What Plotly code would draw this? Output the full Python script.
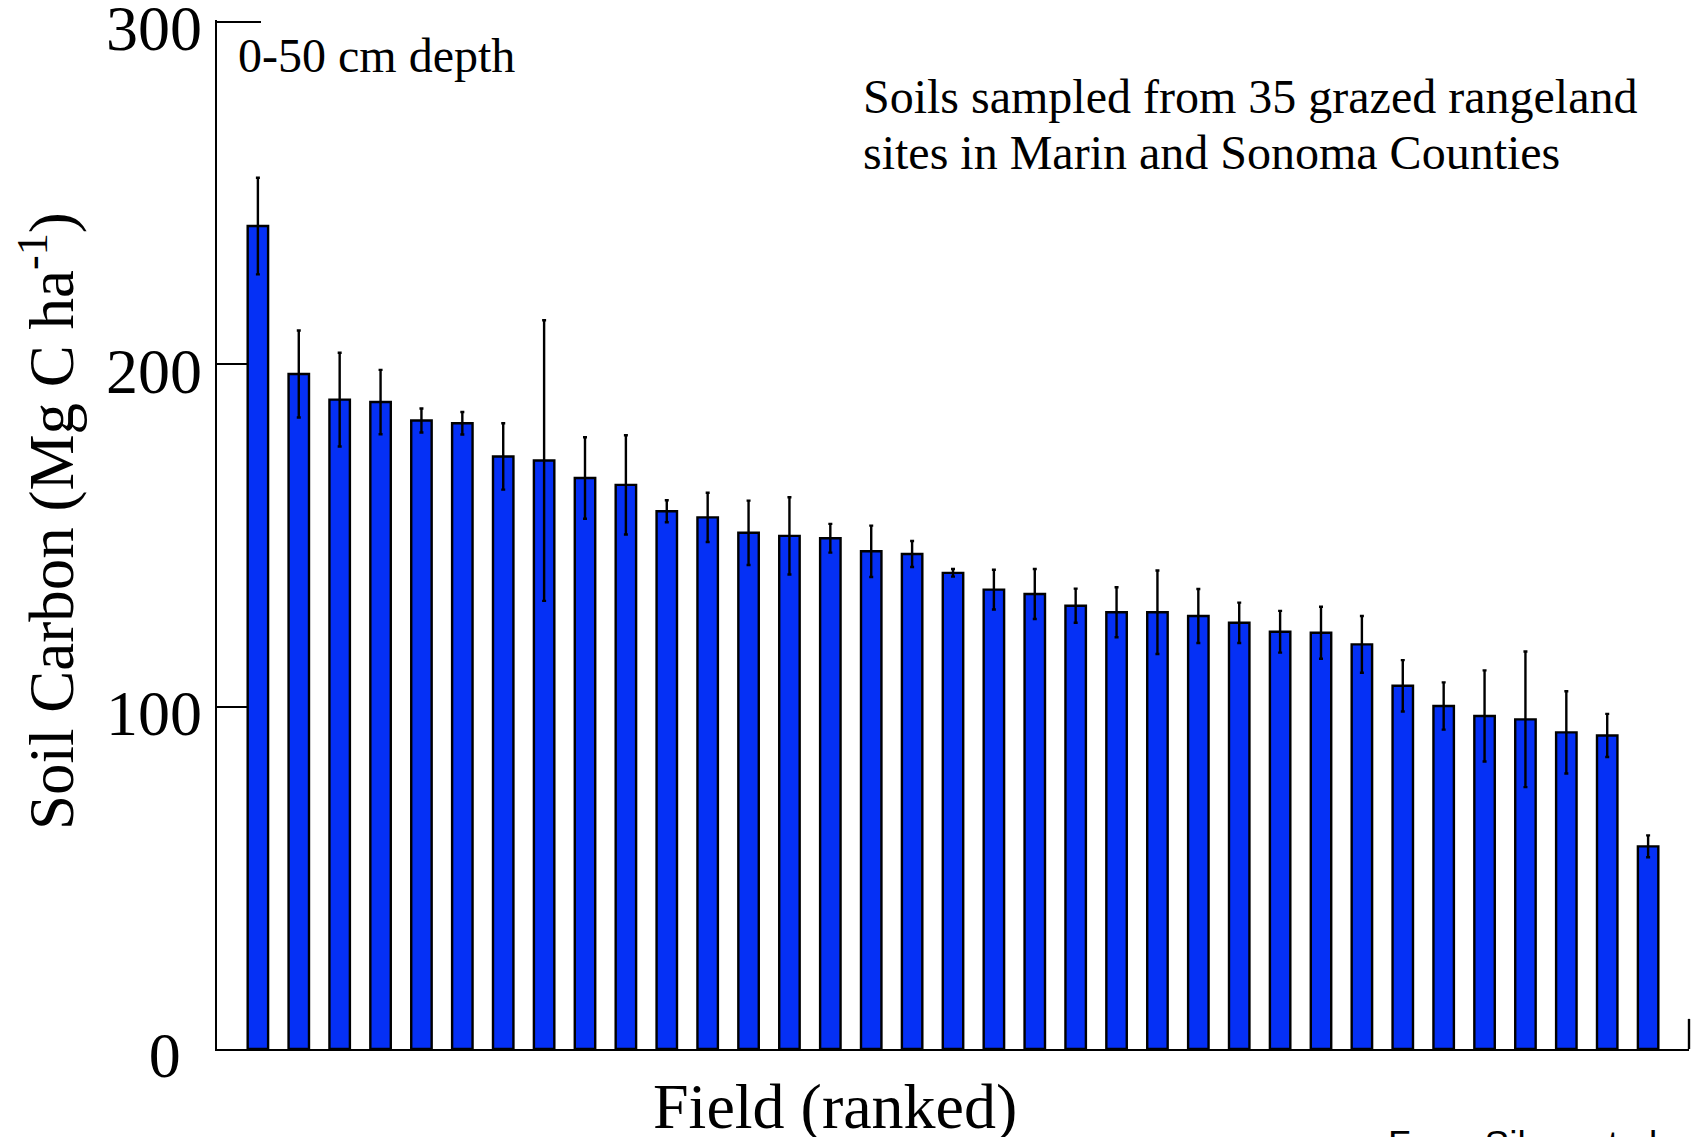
import plotly.graph_objects as go

# Soil carbon stocks (0-50 cm) for 35 grazed rangeland fields, ranked high to low
field_rank = list(range(1, 36))
soil_carbon = [240.4, 197.2, 189.7, 189.0, 183.6, 182.8, 173.1, 171.9, 166.8, 164.8,
               157.1, 155.3, 150.8, 149.9, 149.2, 145.4, 144.6, 139.1, 134.2, 132.9,
               129.5, 127.6, 127.6, 126.5, 124.5, 121.9, 121.6, 118.2, 106.1, 100.2,
               97.3, 96.3, 92.5, 91.6, 59.2]
soil_carbon_err = [14.1, 12.7, 13.7, 9.4, 3.5, 3.3, 9.7, 41.0, 11.9, 14.5,
                   3.2, 7.2, 9.4, 11.3, 4.2, 7.5, 3.8, 1.1, 5.8, 7.3,
                   5.0, 7.3, 12.2, 7.9, 5.9, 6.1, 7.6, 8.3, 7.5, 6.9,
                   13.3, 19.8, 12.0, 6.3, 3.2]
y_ticks = [0, 100, 200, 300]
y_tick_text = ["0\u2004", "100", "200", "300"]
Y_MAX = 300.6

SERIF = "Liberation Serif, Times New Roman, serif"

W, H = 1703, 1137
M_L, M_R, M_B = 217, 14, 88
M_T = 20
PW = W - M_L - M_R
PH = H - M_T - M_B


def px_x(px):
    return (px - M_L) / PW


def px_y(py):
    return (H - M_B - py) / PH


fig = go.Figure()
fig.add_trace(go.Bar(
    x=field_rank,
    y=soil_carbon,
    width=0.5,
    marker=dict(color="#0530F5", line=dict(color="black", width=2.4)),
    error_y=dict(type="data", array=soil_carbon_err, visible=True,
                 color="black", thickness=2.4, width=2),
    showlegend=False,
))

# small upright tick closing the right end of the x axis
fig.add_shape(type="line", xref="x domain", yref="y",
              x0=1, x1=1, y0=0, y1=8.8,
              line=dict(color="black", width=2.4))

annotations = [
    dict(text="0-50 cm depth", x=px_x(236), y=px_y(55), xanchor="left", yanchor="middle",
         font=dict(size=48)),
    dict(text="Soils sampled from 35 grazed rangeland", x=px_x(861), y=px_y(97),
         xanchor="left", yanchor="middle", font=dict(size=48)),
    dict(text="sites in Marin and Sonoma Counties", x=px_x(861), y=px_y(152),
         xanchor="left", yanchor="middle", font=dict(size=48)),
    dict(text="Field (ranked)", x=px_x(835), y=px_y(1106), xanchor="center", yanchor="middle",
         font=dict(size=64)),
    dict(text="Soil Carbon (Mg C ha<sup>-1</sup>)", x=px_x(47), y=px_y(521),
         xanchor="center", yanchor="middle", textangle=-90, font=dict(size=63)),
    dict(text="From Silver et al.", x=px_x(1386), y=px_y(1144), xanchor="left", yanchor="middle",
         font=dict(size=37, family="Liberation Sans, Arial, sans-serif")),
]
for a in annotations:
    a.update(xref="paper", yref="paper", showarrow=False)
    a["font"].setdefault("family", SERIF)
    a["font"]["color"] = "black"

fig.update_layout(
    width=W, height=H,
    margin=dict(l=M_L, r=M_R, t=M_T, b=M_B, pad=0, autoexpand=False),
    paper_bgcolor="white", plot_bgcolor="white",
    bargap=0.5,
    annotations=annotations,
    font=dict(family=SERIF, color="black"),
)
fig.update_xaxes(
    range=[0, 36], showticklabels=False, ticks="", showgrid=False, zeroline=False,
    showline=True, linecolor="black", linewidth=2.4, layer="below traces",
    automargin=False,
)
fig.update_yaxes(
    range=[0, Y_MAX], tickvals=y_ticks, ticktext=y_tick_text,
    ticks="inside", ticklen=44, tickwidth=2.4, tickcolor="black",
    tickfont=dict(family=SERIF, size=64, color="black"), ticklabelstandoff=0,
    ticklabelshift=6, ticklabeloverflow="allow", automargin=False,
    showgrid=False, zeroline=False, showline=True, linecolor="black", linewidth=2.4,
    layer="below traces",
)

fig.write_html("out.html")
